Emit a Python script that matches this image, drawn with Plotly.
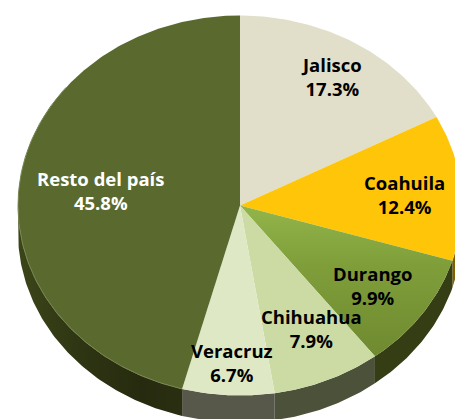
import numpy as np
import plotly.graph_objects as go

names = ["Jalisco", "Coahuila", "Durango", "Chihuahua", "Veracruz", "Resto del país"]
shares = [17.3, 12.4, 9.9, 7.9, 6.7, 45.8]
top_colors = ["#E1DFC9", "#FFC609", None, "#CBDBA3", "#DEE8C5", "#5A6A2F"]
wall_colors = ["#8A8870", "#7F6000", "#343D14", "#4C523A", "#57584A", None]
label_colors = ["black", "black", "black", "black", "black", "white"]
label_px = [(331, 76), (404, 194), (373, 285), (311, 328), (232, 362), (100, 190)]

W, H = 455, 419
CX, CY, RX, RY, DEPTH = 240, 205.5, 222, 190, 27

fig = go.Figure()
edges = np.cumsum([0] + shares) / 100 * 2 * np.pi

def arc(a, b):
    t = np.linspace(a, b, max(int((b - a) * 80), 2))
    return np.sin(t), np.cos(t)

# side wall
d = DEPTH / RY
for i, name in enumerate(names):
    a, b = max(edges[i], np.pi / 2), min(edges[i + 1], 3 * np.pi / 2)
    if b <= a:
        continue
    x, y = arc(a, b)
    px = np.r_[x, x[::-1], x[0]]
    py = np.r_[y, y[::-1] - d, y[0]]
    kw = dict(fillcolor=wall_colors[i])
    if wall_colors[i] is None:
        kw = dict(fillgradient=dict(type="horizontal",
                  colorscale=[[0, "#3C4519"], [0.35, "#2F3613"], [0.75, "#262B0F"], [1, "#2A2F12"]]))
    fig.add_trace(go.Scatter(x=px, y=py, fill="toself", mode="lines", line=dict(width=0),
                             name=name, hoverinfo="skip", showlegend=False, **kw))

# top face
for i, name in enumerate(names):
    x, y = arc(edges[i], edges[i + 1])
    px = np.r_[0, x, 0]
    py = np.r_[0, y, 0]
    if top_colors[i] is None:
        kw = dict(fillgradient=dict(type="vertical",
                  colorscale=[[0, "#6F8A30"], [0.6, "#7F9E3A"], [1, "#92B54A"]]))
    else:
        kw = dict(fillcolor=top_colors[i])
    fig.add_trace(go.Scatter(x=px, y=py, fill="toself", mode="lines", line=dict(width=0),
                             name=name, text=f"{name} {shares[i]}%", hoverinfo="text",
                             showlegend=False, **kw))

# rim highlight on the front of the dark slice
x, y = arc(edges[5], 2 * np.pi - 0.9)
fig.add_trace(go.Scatter(x=x, y=y, mode="lines", line=dict(width=1, color="#76844F"),
                         hoverinfo="skip", showlegend=False))

for name, v, c, (lx, ly) in zip(names, shares, label_colors, label_px):
    fig.add_annotation(xref="paper", yref="paper", x=lx / W, y=1 - ly / H, showarrow=False,
                       xanchor="center", yanchor="middle",
                       text=f"<b>{name}</b><br><b>{v}%</b>", align="center",
                       font=dict(family="Open Sans", size=18.5, color=c))

fig.update_layout(
    width=W, height=H, margin=dict(l=0, r=0, t=0, b=0),
    paper_bgcolor="white", plot_bgcolor="white", showlegend=False,
    xaxis=dict(range=[-CX / RX, (W - CX) / RX], visible=False, fixedrange=True),
    yaxis=dict(range=[-(H - CY) / RY, CY / RY], visible=False, fixedrange=True),
)
fig.write_html("out.html", config=dict(displayModeBar=False),
               post_script="document.body.style.margin='0';document.body.style.overflow='hidden';")
